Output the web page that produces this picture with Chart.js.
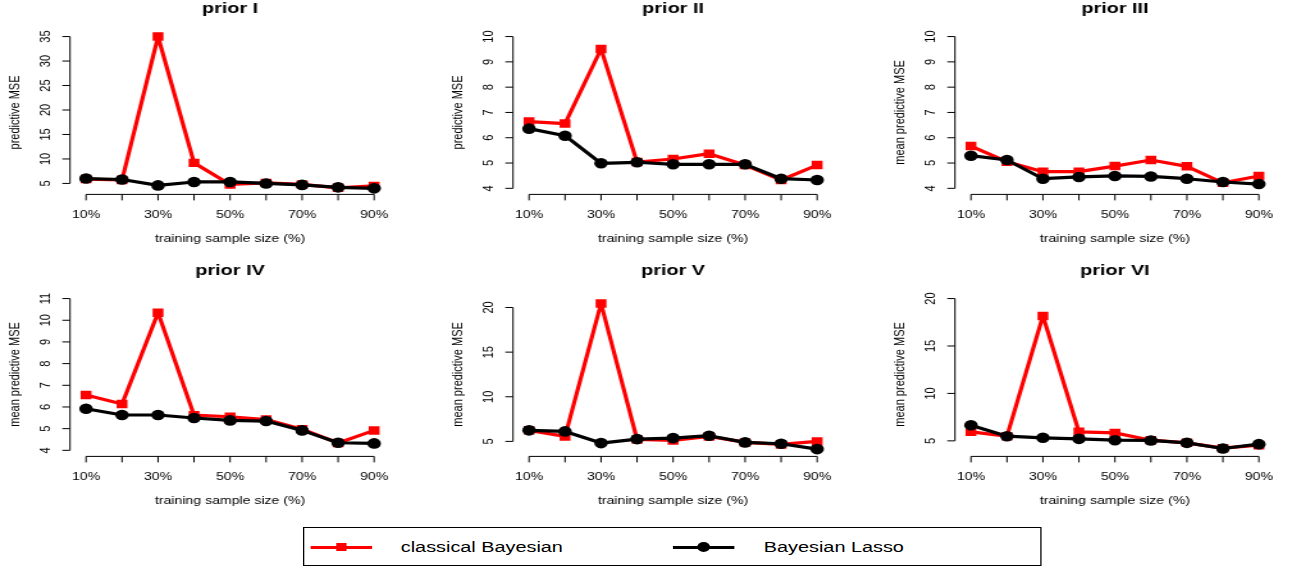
<!DOCTYPE html>
<html>
<head>
<meta charset="utf-8">
<title>Predictive MSE by prior</title>
<script src="https://cdn.jsdelivr.net/npm/chart.js@4.4.1/dist/chart.umd.min.js"></script>
<style>
  html, body { margin: 0; padding: 0; background: #fff; }
  #page { position: relative; width: 1298px; height: 570px; overflow: hidden;
          font-family: "Liberation Sans", Arial, Helvetica, sans-serif; }
  #page canvas { position: absolute; }
  #legend { position: absolute; left: 303px; top: 527px; width: 577px; height: 39px;
            box-sizing: border-box; border: 1px solid #000;
            transform: scaleX(1.28); transform-origin: 0 0; }
  #legend .ln { position: absolute; top: 17.5px; height: 3px; }
  #legend .txt { position: absolute; top: 19px; transform: translateY(-50%);
                 font-size: 15.5px; line-height: 1; color: #000; white-space: nowrap; }
</style>
</head>
<body>
<div id="page">
  <div id="legend">
    <div class="ln" style="left:5.3px;width:47.6px;background:#ff0000"></div>
    <div style="position:absolute;left:24.7px;top:15px;width:8px;height:8px;background:#ff0000"></div>
    <div class="txt" style="left:75.4px">classical Bayesian</div>
    <div class="ln" style="left:288px;width:48.2px;background:#000"></div>
    <div style="position:absolute;left:307.3px;top:14px;width:10px;height:10px;border-radius:50%;background:#000"></div>
    <div class="txt" style="left:359px">Bayesian Lasso</div>
  </div>
</div>
<script>
// the reference picture is stretched sideways, so every canvas is too
const SX = 1.28;

const sizes = ['10%', '20%', '30%', '40%', '50%', '60%', '70%', '80%', '90%'];

const classicalI  = [5.9, 5.7, 35.0, 9.2, 4.8, 5.1, 4.8, 4.1, 4.5];
const lassoI      = [6.0, 5.8, 4.6, 5.3, 5.3, 5.0, 4.7, 4.2, 4.0];
const classicalII = [6.64, 6.56, 9.51, 5.04, 5.16, 5.37, 4.92, 4.33, 4.92];
const lassoII     = [6.36, 6.08, 4.99, 5.03, 4.95, 4.95, 4.95, 4.38, 4.33];
const classicalIII = [5.67, 5.05, 4.66, 4.66, 4.88, 5.12, 4.87, 4.22, 4.49];
const lassoIII     = [5.29, 5.12, 4.38, 4.45, 4.49, 4.47, 4.38, 4.25, 4.17];
const classicalIV = [6.55, 6.14, 10.35, 5.62, 5.55, 5.42, 4.97, 4.34, 4.92];
const lassoIV     = [5.92, 5.63, 5.63, 5.49, 5.38, 5.35, 4.92, 4.35, 4.32];
const classicalV  = [6.24, 5.56, 20.45, 5.22, 5.11, 5.56, 4.89, 4.66, 5.0];
const lassoV      = [6.24, 6.12, 4.81, 5.26, 5.37, 5.64, 4.89, 4.74, 4.14];
const classicalVI = [5.95, 5.49, 18.17, 5.95, 5.84, 5.07, 4.79, 4.23, 4.54];
const lassoVI     = [6.65, 5.49, 5.32, 5.21, 5.07, 5.04, 4.79, 4.19, 4.65];

const ticksI   = [5, 10, 15, 20, 25, 30, 35];
const ticksII  = [4, 5, 6, 7, 8, 9, 10];
const ticksIII = [4, 5, 6, 7, 8, 9, 10];
const ticksIV  = [4, 5, 6, 7, 8, 9, 10, 11];
const ticksV   = [5, 10, 15, 20];
const ticksVI  = [5, 10, 15, 20];

const ylimI = [4, 35], ylimII = [4, 10], ylimIII = [4, 10];
const ylimIV = [4, 11], ylimV = [4, 21], ylimVI = [4, 20];

const panels = [
  { title: 'prior I',   yTitle: 'predictive MSE',      classical: classicalI,   lasso: lassoI,   ticks: ticksI,   ylim: ylimI },
  { title: 'prior II',  yTitle: 'predictive MSE',      classical: classicalII,  lasso: lassoII,  ticks: ticksII,  ylim: ylimII },
  { title: 'prior III', yTitle: 'mean predictive MSE', classical: classicalIII, lasso: lassoIII, ticks: ticksIII, ylim: ylimIII },
  { title: 'prior IV',  yTitle: 'mean predictive MSE', classical: classicalIV,  lasso: lassoIV,  ticks: ticksIV,  ylim: ylimIV },
  { title: 'prior V',   yTitle: 'mean predictive MSE', classical: classicalV,   lasso: lassoV,   ticks: ticksV,   ylim: ylimV },
  { title: 'prior VI',  yTitle: 'mean predictive MSE', classical: classicalVI,  lasso: lassoVI,  ticks: ticksVI,  ylim: ylimVI }
];

// layout, in canvas units (horizontal ones get stretched by SX)
const colLeft = [0, 443, 885];
const rowTop = [0, 262];
const canvasW = [346, 346, 322];
const canvasH = 262;
const plotLeft = 70 / SX, plotRight = 390 / SX, plotTop = 30.5, plotBottom = 194.4;
const X_PAD = 0.444;
const TICK = 6;
const FONT = '11px "Liberation Sans", Arial, Helvetica, sans-serif';
const FONT_MAIN = 'bold 15.5px "Liberation Sans", Arial, Helvetica, sans-serif';

function label(ctx, text, x, y, font, rotate) {
  ctx.save();
  ctx.translate(x, y);
  if (rotate) ctx.rotate(-Math.PI / 2);
  ctx.font = font;
  ctx.textAlign = 'center';
  ctx.textBaseline = 'alphabetic';
  ctx.fillText(text, 0, 0);
  ctx.restore();
}

// base-graphics style axes: lines only from first to last tick
const rAxes = {
  id: 'rAxes',
  afterDraw(chart, args, opts) {
    const { ctx, chartArea: a, scales: { x, y } } = chart;
    ctx.save();
    ctx.strokeStyle = '#000';
    ctx.fillStyle = '#000';
    ctx.lineWidth = 1;
    ctx.beginPath();
    const yt = opts.ticks;
    ctx.moveTo(a.left, y.getPixelForValue(yt[0]));
    ctx.lineTo(a.left, y.getPixelForValue(yt[yt.length - 1]));
    yt.forEach(v => {
      const py = y.getPixelForValue(v);
      ctx.moveTo(a.left, py);
      ctx.lineTo(a.left - TICK, py);
    });
    ctx.moveTo(x.getPixelForValue(1), a.bottom);
    ctx.lineTo(x.getPixelForValue(sizes.length), a.bottom);
    sizes.forEach((s, i) => {
      const px = x.getPixelForValue(i + 1);
      ctx.moveTo(px, a.bottom);
      ctx.lineTo(px, a.bottom + TICK);
    });
    ctx.stroke();

    yt.forEach(v => label(ctx, String(v), a.left - 15.6, y.getPixelForValue(v), FONT, true));
    sizes.forEach((s, i) => {
      if (i % 2 === 0) label(ctx, s, x.getPixelForValue(i + 1), a.bottom + 24, FONT, false);
    });
    const cx = (a.left + a.right) / 2;
    label(ctx, 'training sample size (%)', cx, a.bottom + 47.5, FONT, false);
    label(ctx, opts.yTitle, a.left - 39.5, (a.top + a.bottom) / 2, FONT, true);
    label(ctx, opts.title, cx, 13, FONT_MAIN, false);
    ctx.restore();
  }
};

function toPoints(values) {
  return values.map((v, i) => ({ x: i + 1, y: v }));
}

const page = document.getElementById('page');

panels.forEach((p, i) => {
  const col = i % 3, row = Math.floor(i / 3);
  const canvas = document.createElement('canvas');
  canvas.width = canvasW[col];
  canvas.height = canvasH;
  canvas.style.left = colLeft[col] + 'px';
  canvas.style.top = rowTop[row] + 'px';
  canvas.style.width = (canvasW[col] * SX) + 'px';
  canvas.style.height = canvasH + 'px';
  page.appendChild(canvas);

  const pad = (p.ylim[1] - p.ylim[0]) * 0.04;

  new Chart(canvas.getContext('2d'), {
    type: 'line',
    data: {
      datasets: [{
        label: 'classical Bayesian',
        data: toPoints(p.classical),
        borderColor: '#ff0000',
        backgroundColor: '#ff0000',
        borderWidth: 3.2,
        borderJoinStyle: 'round',
        borderCapStyle: 'round',
        pointStyle: 'rect',
        pointRadius: 6,
        pointBorderWidth: 0,
        order: 1
      }, {
        label: 'Bayesian Lasso',
        data: toPoints(p.lasso),
        borderColor: '#000000',
        backgroundColor: '#000000',
        borderWidth: 3.2,
        borderJoinStyle: 'round',
        borderCapStyle: 'round',
        pointStyle: 'circle',
        pointRadius: 5.3,
        pointBorderWidth: 0,
        order: 0
      }]
    },
    options: {
      responsive: false,
      animation: false,
      devicePixelRatio: 1,
      layout: {
        padding: { left: plotLeft, right: canvasW[col] - plotRight, top: plotTop, bottom: canvasH - plotBottom }
      },
      scales: {
        x: { type: 'linear', display: false, min: 1 - X_PAD, max: sizes.length + X_PAD },
        y: { type: 'linear', display: false, min: p.ylim[0] - pad, max: p.ylim[1] + pad }
      },
      plugins: {
        legend: { display: false },
        tooltip: { enabled: false },
        rAxes: { ticks: p.ticks, title: p.title, yTitle: p.yTitle }
      }
    },
    plugins: [rAxes]
  });
});
</script>
</body>
</html>
